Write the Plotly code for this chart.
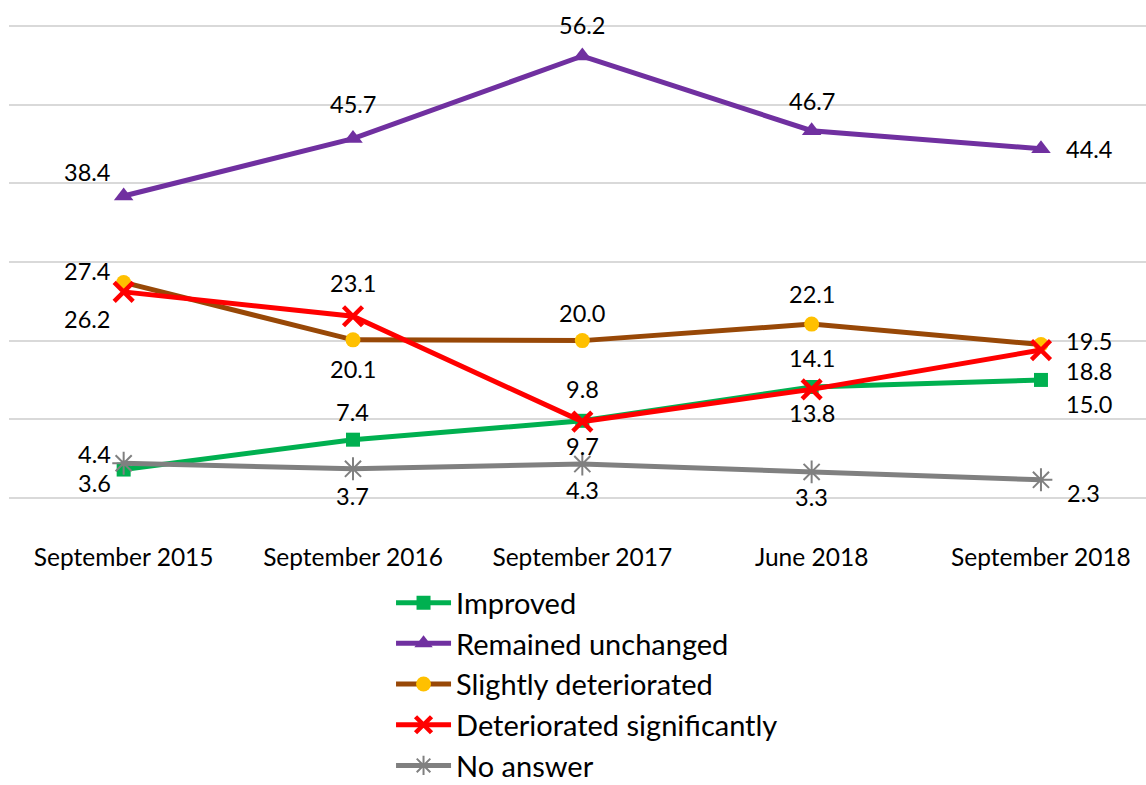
import plotly.graph_objects as go

# Survey waves
categories = ["September 2015", "September 2016", "September 2017", "June 2018", "September 2018"]

# Share of respondents (%) per answer
improved = [3.6, 7.4, 9.8, 14.1, 15.0]
remained_unchanged = [38.4, 45.7, 56.2, 46.7, 44.4]
slightly_deteriorated = [27.4, 20.1, 20.0, 22.1, 19.5]
deteriorated_significantly = [26.2, 23.1, 9.7, 13.8, 18.8]
no_answer = [4.4, 3.7, 4.3, 3.3, 2.3]

# Horizontal guide lines
grid_values = [0, 10, 20, 30, 40, 50, 60]

FONT = "Lato"
GRID = "#D9D9D9"

# Pixel offsets of each value label from its point (dx, dy; +dy is downward)
series = [
    dict(name="Improved", y=improved, line="#00B050", marker=dict(symbol="square", size=14, color="#00B050"),
         labels=[(-29, 13), (0, -28), (0, -32), (0, -29), (48, 24)]),
    dict(name="Remained unchanged", y=remained_unchanged, line="#7030A0",
         marker=dict(symbol="triangle-up", size=17, color="#7030A0"),
         labels=[(-37, -24), (0, -35), (0, -31), (0, -30), (48, 0)]),
    dict(name="Slightly deteriorated", y=slightly_deteriorated, line="#984807",
         marker=dict(symbol="circle", size=15, color="#FFC000"),
         labels=[(-37, -11), (0, 29), (0, -28), (0, -30), (48, -4)]),
    dict(name="Deteriorated significantly", y=deteriorated_significantly, line="#FF0000",
         marker=dict(symbol="x-thin", size=19, color="#FF0000", line=dict(color="#FF0000", width=4.5)),
         labels=[(-37, 27), (0, -33), (0, 24), (0, 24), (48, 21)]),
    dict(name="No answer", y=no_answer, line="#808080",
         marker=dict(symbol="asterisk-open", size=19, color="#808080", line=dict(color="#808080", width=2)),
         labels=[(-29, -9), (0, 27), (0, 26), (0, 25), (43, 13)]),
]

fig = go.Figure()
annotations = []
for s in series:
    fig.add_trace(go.Scatter(
        x=list(range(len(categories))), y=s["y"], name=s["name"], mode="lines+markers",
        line=dict(color=s["line"], width=5), marker=s["marker"],
    ))
    for i, (v, (dx, dy)) in enumerate(zip(s["y"], s["labels"])):
        annotations.append(dict(
            x=i, y=v, xref="x", yref="y", text=f"{v:.1f}", showarrow=False,
            xshift=dx, yshift=-dy, font=dict(family=FONT, size=23.5, color="#000000"),
        ))

fig.update_layout(
    width=1146, height=785,
    margin=dict(l=9, r=0, t=23, b=284, autoexpand=False),
    plot_bgcolor="white", paper_bgcolor="white",
    annotations=annotations,
    showlegend=True,
    legend=dict(
        orientation="v", x=0.336, y=-0.1596, xanchor="left", yanchor="top",
        font=dict(family=FONT, size=29, color="#000000"),
        itemwidth=55, tracegroupgap=0, bgcolor="rgba(0,0,0,0)", borderwidth=0,
    ),
    xaxis=dict(
        tickmode="array", tickvals=list(range(len(categories))), ticktext=categories,
        range=[-0.5, 4.458], showgrid=False, zeroline=False, showline=False, ticks="",
        tickfont=dict(family=FONT, size=24.5, color="#000000"), ticklabelstandoff=39,
        fixedrange=True,
    ),
    yaxis=dict(
        range=[-0.4, 60.4], tickvals=grid_values, showticklabels=False, showgrid=True,
        gridcolor=GRID, gridwidth=1.5, zeroline=True, zerolinecolor=GRID, zerolinewidth=1.5,
        showline=False, ticks="", fixedrange=True,
    ),
)

fig.write_html("out.html")
